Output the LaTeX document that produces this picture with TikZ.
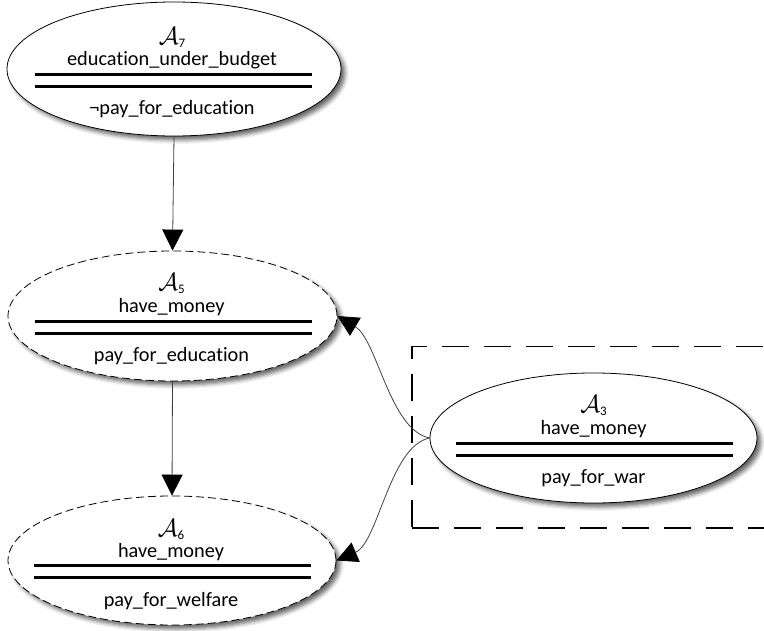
\documentclass[tikz,border=0pt]{standalone}
\usepackage{fontspec}
\setmainfont{Carlito}[Ligatures={NoCommon}]
\usetikzlibrary{shapes.geometric,arrows.meta,shadows.blur,calc}
\newcommand\argsym[1]{$\mathcal{A}$\raisebox{-3pt}{\fontsize{13}{13}\selectfont #1}}
\begin{document}
\begin{tikzpicture}[x=1pt,y=-1pt,
  argshape/.style={ellipse, draw=black, line width=0.8pt, fill=white, inner sep=0pt,
    blur shadow={shadow xshift=4pt, shadow yshift=-4pt, shadow blur radius=4pt, shadow opacity=60}},
  solidarg/.style={argshape},
  dashedarg/.style={argshape, dash pattern=on 8pt off 4pt},
  lbl/.style={anchor=base, inner sep=0pt, font=\fontsize{20.3}{24}\selectfont},
  sym/.style={anchor=base, inner sep=0pt, font=\fontsize{23}{26}\selectfont},
  bar/.style={line width=3pt},
  grpbox/.style={draw=black, line width=1.5pt, dash pattern=on 27pt off 15pt, inner sep=0pt},
  conn/.style={draw=black!75, line width=0.8pt, -{Triangle[length=21pt,width=21pt,black]}}]
\useasboundingbox (0,0) rectangle (764,631);
\clip (0,0) rectangle (764,631);

% group box
\node[grpbox, minimum width=379pt, minimum height=181pt, anchor=north west] (G) at (411,346) {};

% A7
\node[solidarg, minimum width=334pt, minimum height=134pt] (A7) at (174,69) {};
\node[sym] (A7s) at ($(A7.center)+(-2,-24)$) {\argsym{7}};
\node[lbl] (A7a) at ($(A7.center)+(-2,-3.5)$) {education\_under\_budget};
\draw[bar] ($(A7.center)+(-139,6)$) -- ($(A7.center)+(138,6)$);
\draw[bar] ($(A7.center)+(-139,18)$) -- ($(A7.center)+(138,18)$);
\node[lbl] (A7c) at ($(A7.center)+(-2,46)$) {¬pay\_for\_education};

% A5
\node[dashedarg, minimum width=329pt, minimum height=130pt] (A5) at (172.5,316) {};
\node[sym] (A5s) at ($(A5.center)+(-1,-25)$) {\argsym{5}};
\node[lbl] (A5a) at ($(A5.center)+(-1,-3.5)$) {have\_money};
\draw[bar] ($(A5.center)+(-138,6)$) -- ($(A5.center)+(139,6)$);
\draw[bar] ($(A5.center)+(-138,18)$) -- ($(A5.center)+(139,18)$);
\node[lbl] (A5c) at ($(A5.center)+(-1,46)$) {pay\_for\_education};

% A6
\node[dashedarg, minimum width=328pt, minimum height=129pt] (A6) at (172,560.5) {};
\node[sym] (A6s) at ($(A6.center)+(-1,-24)$) {\argsym{6}};
\node[lbl] (A6a) at ($(A6.center)+(-1,-3.5)$) {have\_money};
\draw[bar] ($(A6.center)+(-138,5)$) -- ($(A6.center)+(139,5)$);
\draw[bar] ($(A6.center)+(-138,17)$) -- ($(A6.center)+(139,17)$);
\node[lbl] (A6c) at ($(A6.center)+(-1,46)$) {pay\_for\_welfare};

% A3
\node[solidarg, minimum width=327pt, minimum height=130pt] (A3) at (593.5,438) {};
\node[sym] (A3s) at ($(A3.center)+(0,-25)$) {\argsym{3}};
\node[lbl] (A3a) at ($(A3.center)+(0,-3.5)$) {have\_money};
\draw[bar] ($(A3.center)+(-138,5)$) -- ($(A3.center)+(139,5)$);
\draw[bar] ($(A3.center)+(-138,17)$) -- ($(A3.center)+(139,17)$);
\node[lbl] (A3c) at ($(A3.center)+(0,45)$) {pay\_for\_war};

% connectors
\draw[conn] (A7.south) -- (A5.north);
\draw[conn] (A5.south) -- (A6.north);
\draw[conn] (A3.west) .. controls +(-40,-8) and +(40,24) .. (A5.east);
\draw[conn] (A3.west) .. controls +(-40,8) and +(42,-18) .. (A6.east);
\end{tikzpicture}
\end{document}
